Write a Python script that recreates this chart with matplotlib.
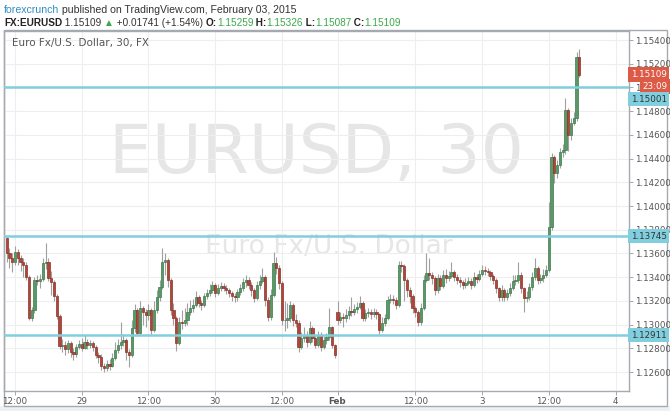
import numpy as np
import pandas as pd
import matplotlib
matplotlib.use('Agg')
import matplotlib.pyplot as plt
from matplotlib.patches import Rectangle
from matplotlib.transforms import offset_copy

# EURUSD 30 min candles
# session 1: Jan 28 10:30 -> Jan 30 21:30, session 2: Feb 1 22:00 -> Feb 3 17:30
first_open_1 = 1.13730
first_open_2 = 1.13106

close_1 = [1.13604, 1.13561, 1.13528, 1.13612, 1.13561, 1.13528, 1.13502, 1.13401, 1.13055, 1.13123,
           1.13376, 1.13367, 1.13384, 1.13519, 1.13528, 1.13393, 1.13359, 1.13241, 1.13072, 1.12819,
           1.12828, 1.12794, 1.12844, 1.12769, 1.12752, 1.12811, 1.12836, 1.12802, 1.12853, 1.12828,
           1.12844, 1.12811, 1.12743, 1.12726, 1.12651, 1.12634, 1.12667, 1.12651, 1.12718, 1.12785,
           1.12828, 1.12853, 1.12870, 1.12769, 1.12743, 1.12971, 1.13123, 1.12929, 1.13140, 1.13106,
           1.13081, 1.13123, 1.12954, 1.13123, 1.13233, 1.13317, 1.13528, 1.13545, 1.13376, 1.13123,
           1.13055, 1.12844, 1.13022, 1.13013, 1.13038, 1.13106, 1.13140, 1.13165, 1.13233, 1.13182,
           1.13165, 1.13241, 1.13266, 1.13292, 1.13334, 1.13266, 1.13308, 1.13325, 1.13308, 1.13292,
           1.13266, 1.13241, 1.13233, 1.13275, 1.13308, 1.13359, 1.13376, 1.13334, 1.13292, 1.13224,
           1.13334, 1.13367, 1.13401, 1.13207, 1.13064, 1.13249, 1.13519, 1.13477, 1.13351, 1.13038,
           1.13038, 1.13055, 1.13165, 1.13038, 1.13013, 1.12811, 1.12887, 1.12912, 1.12853, 1.12971,
           1.12887, 1.12828, 1.12912, 1.12811, 1.12870, 1.12895, 1.12979, 1.12828, 1.12743]
high_1 = [1.13740, 1.13650, 1.13600, 1.13660, 1.13640, 1.13590, 1.13560, 1.13530, 1.13420, 1.13150,
          1.13400, 1.13420, 1.13430, 1.13560, 1.13690, 1.13560, 1.13450, 1.13380, 1.13260, 1.13090,
          1.12880, 1.12860, 1.12870, 1.12860, 1.12800, 1.12840, 1.12870, 1.12890, 1.12910, 1.12880,
          1.12870, 1.12860, 1.12830, 1.12770, 1.12750, 1.12680, 1.12700, 1.12710, 1.12760, 1.12850,
          1.12880, 1.13020, 1.12920, 1.12890, 1.12790, 1.13040, 1.13170, 1.13140, 1.13200, 1.13160,
          1.13130, 1.13170, 1.13140, 1.13200, 1.13290, 1.13380, 1.13650, 1.13600, 1.13560, 1.13390,
          1.13180, 1.13070, 1.13060, 1.13120, 1.13140, 1.13180, 1.13210, 1.13220, 1.13280, 1.13250,
          1.13210, 1.13270, 1.13300, 1.13340, 1.13370, 1.13350, 1.13340, 1.13360, 1.13350, 1.13330,
          1.13310, 1.13280, 1.13270, 1.13300, 1.13340, 1.13390, 1.13420, 1.13400, 1.13360, 1.13310,
          1.13370, 1.13420, 1.13480, 1.13420, 1.13230, 1.13300, 1.13610, 1.13570, 1.13500, 1.13370,
          1.13200, 1.13180, 1.13200, 1.13180, 1.13090, 1.13040, 1.12940, 1.12980, 1.12950, 1.13030,
          1.12990, 1.12910, 1.12950, 1.12940, 1.12900, 1.12930, 1.13140, 1.12990, 1.12840]
low_1 = [1.13530, 1.13480, 1.13440, 1.13500, 1.13500, 1.13450, 1.13400, 1.13380, 1.13040, 1.13030,
         1.13100, 1.13330, 1.13310, 1.13370, 1.13470, 1.13370, 1.13250, 1.13200, 1.13050, 1.12790,
         1.12770, 1.12740, 1.12760, 1.12730, 1.12700, 1.12730, 1.12790, 1.12780, 1.12790, 1.12790,
         1.12800, 1.12780, 1.12720, 1.12680, 1.12620, 1.12600, 1.12610, 1.12620, 1.12640, 1.12700,
         1.12760, 1.12790, 1.12820, 1.12700, 1.12640, 1.12730, 1.12940, 1.12900, 1.12920, 1.13000,
         1.12980, 1.13040, 1.12920, 1.12940, 1.13100, 1.13200, 1.13300, 1.13420, 1.13320, 1.13080,
         1.13000, 1.12780, 1.12830, 1.12960, 1.12990, 1.13000, 1.13080, 1.13110, 1.13150, 1.13150,
         1.13120, 1.13150, 1.13220, 1.13240, 1.13270, 1.13230, 1.13250, 1.13280, 1.13280, 1.13260,
         1.13230, 1.13200, 1.13190, 1.13200, 1.13250, 1.13280, 1.13320, 1.13300, 1.13240, 1.13190,
         1.13210, 1.13300, 1.13350, 1.13160, 1.13030, 1.13040, 1.13230, 1.13430, 1.13300, 1.13000,
         1.12950, 1.12970, 1.13020, 1.12990, 1.12980, 1.12770, 1.12790, 1.12850, 1.12810, 1.12840,
         1.12850, 1.12800, 1.12810, 1.12780, 1.12790, 1.12840, 1.12870, 1.12800, 1.12720]

close_2 = [1.13038, 1.13064, 1.13055, 1.13081, 1.13114, 1.13106, 1.13131, 1.13148, 1.13182, 1.13055,
           1.13098, 1.13106, 1.13089, 1.13106, 1.13089, 1.12954, 1.13013, 1.13055, 1.13207, 1.13216,
           1.13207, 1.13165, 1.13502, 1.13494, 1.13376, 1.13292, 1.13241, 1.13140, 1.13106, 1.13022,
           1.13140, 1.13376, 1.13435, 1.13418, 1.13393, 1.13292, 1.13393, 1.13325, 1.13418, 1.13393,
           1.13410, 1.13443, 1.13401, 1.13376, 1.13359, 1.13334, 1.13351, 1.13367, 1.13334, 1.13401,
           1.13384, 1.13426, 1.13460, 1.13452, 1.13443, 1.13410, 1.13376, 1.13308, 1.13233, 1.13292,
           1.13233, 1.13266, 1.13308, 1.13367, 1.13376, 1.13418, 1.13308, 1.13224, 1.13233, 1.13317,
           1.13401, 1.13477, 1.13376, 1.13393, 1.13418, 1.13460, 1.13823, 1.14413, 1.14278, 1.14346,
           1.14455, 1.14472, 1.14810, 1.14599, 1.14700, 1.14742, 1.15259, 1.15109]
high_2 = [1.13200, 1.13110, 1.13100, 1.13130, 1.13160, 1.13230, 1.13170, 1.13190, 1.13240, 1.13200,
          1.13130, 1.13140, 1.13130, 1.13140, 1.13130, 1.13100, 1.13060, 1.13090, 1.13240, 1.13260,
          1.13250, 1.13230, 1.13540, 1.13540, 1.13510, 1.13390, 1.13320, 1.13260, 1.13160, 1.13120,
          1.13180, 1.13420, 1.13600, 1.13560, 1.13440, 1.13410, 1.13430, 1.13420, 1.13460, 1.13470,
          1.13450, 1.13530, 1.13460, 1.13430, 1.13400, 1.13380, 1.13390, 1.13400, 1.13390, 1.13440,
          1.13430, 1.13460, 1.13500, 1.13490, 1.13480, 1.13460, 1.13430, 1.13390, 1.13320, 1.13330,
          1.13310, 1.13300, 1.13350, 1.13420, 1.13420, 1.13530, 1.13440, 1.13320, 1.13280, 1.13350,
          1.13440, 1.13560, 1.13490, 1.13430, 1.13470, 1.13500, 1.14030, 1.14450, 1.14430, 1.14390,
          1.14490, 1.14520, 1.14910, 1.14830, 1.14740, 1.14790, 1.15300, 1.15326]
low_2 = [1.13000, 1.13010, 1.12980, 1.13020, 1.13050, 1.13070, 1.13080, 1.13100, 1.13130, 1.13030,
         1.13030, 1.13060, 1.13050, 1.13060, 1.13050, 1.12920, 1.12940, 1.12990, 1.13040, 1.13180,
         1.13170, 1.13130, 1.13150, 1.13440, 1.13200, 1.13230, 1.13180, 1.13100, 1.13060, 1.12990,
         1.13000, 1.13120, 1.13360, 1.13380, 1.13340, 1.13250, 1.13270, 1.13290, 1.13310, 1.13350,
         1.13370, 1.13390, 1.13370, 1.13340, 1.13320, 1.13300, 1.13310, 1.13330, 1.13300, 1.13320,
         1.13350, 1.13370, 1.13410, 1.13420, 1.13410, 1.13380, 1.13340, 1.13270, 1.13200, 1.13200,
         1.13200, 1.13210, 1.13240, 1.13290, 1.13330, 1.13350, 1.13270, 1.13110, 1.13190, 1.13210,
         1.13290, 1.13380, 1.13340, 1.13350, 1.13360, 1.13400, 1.13440, 1.13800, 1.14190, 1.14240,
         1.14320, 1.14410, 1.14440, 1.14460, 1.14560, 1.14680, 1.14720, 1.15087]

levels = [1.15001, 1.13745, 1.12911]
level_labels = ['1.15001', '1.13745', '1.12911']

tick_times = ['2015-01-28 12:00', '2015-01-29 00:00', '2015-01-29 12:00', '2015-01-30 00:00',
              '2015-01-30 12:00', '2015-02-01 22:00', '2015-02-02 12:00', '2015-02-03 00:00',
              '2015-02-03 12:00', '2015-02-04 00:00']
tick_labels = ['12:00', '29', '12:00', '30', '12:00', 'Feb', '12:00', '3', '12:00', '4']

# build series
t1 = pd.date_range('2015-01-28 10:30', '2015-01-30 21:30', freq='30min')
t2 = pd.date_range('2015-02-01 22:00', '2015-02-03 17:30', freq='30min')
times = t1.append(t2)
o = np.array([first_open_1] + close_1[:-1] + [first_open_2] + close_2[:-1])
c = np.array(close_1 + close_2)
h = np.array(high_1 + high_2)
l = np.array(low_1 + low_2)
idx = np.arange(len(c))


def time_pos(ts):
    ts = pd.Timestamp(ts)
    if ts in times:
        return times.get_loc(ts)
    return len(times) - 1 + (ts - times[-1]) / pd.Timedelta('30min')


W, H = 670, 411
fig = plt.figure(figsize=(W / 100, H / 100), dpi=100)
fig.patch.set_facecolor('white')


def fx(px):
    return px / W


def fy(py):
    return 1 - py / H


# outer frame and grey strip at the bottom
fig.patches.append(Rectangle((0, 0), 1, fy(406), transform=fig.transFigure,
                             fc='#eef1f4', ec='none', zorder=-10))
fig.patches.append(Rectangle((fx(4), fy(406)), fx(667) - fx(4), fy(30) - fy(406),
                             transform=fig.transFigure, fc='white', ec='#a5aab0', lw=1, zorder=-9))

ax = fig.add_axes([fx(4), fy(391), fx(629) - fx(4), fy(31) - fy(391)])
ax.set_zorder(2)
ax.set_facecolor('none')
ax.set_xlim(-0.97, 223.85)
ax.set_ylim(1.12440, 1.15476)

# watermark
ax.text(0.5, 0.658, 'EURUSD, 30', transform=ax.transAxes, ha='center', va='center',
        fontsize=49, color='#e6e6e6', zorder=0)
ax.text(0.52, 0.40, 'Euro Fx/U.S. Dollar', transform=ax.transAxes, ha='center', va='center',
        fontsize=19, color='#e6e6e6', zorder=0)

# grid
ax.set_yticks(np.arange(1.126, 1.1545, 0.002))
ax.set_yticklabels(['%.5f' % v for v in np.arange(1.126, 1.1545, 0.002)])
ax.set_xticks([time_pos(t) for t in tick_times])
ax.set_xticklabels(tick_labels)
ax.grid(True, color='#eeeeee', lw=0.8, zorder=0)
ax.set_axisbelow(True)

# candles
up = c >= o
ax.vlines(idx, l, h, color='#a0a0a0', lw=0.8, zorder=2)
body_lo = np.minimum(o, c)
body_h = np.maximum(np.abs(c - o), 0.00002)
ax.bar(idx[up], body_h[up], bottom=body_lo[up], width=0.8,
       color='#5a9868', edgecolor='#3c7a4b', lw=0.5, zorder=3)
ax.bar(idx[~up], body_h[~up], bottom=body_lo[~up], width=0.8,
       color='#b0463a', edgecolor='#8a3226', lw=0.5, zorder=3)

# horizontal levels
for lv in levels:
    ax.axhline(lv, color='#80cede', lw=1.8, zorder=4)

# axis styling
for s in ax.spines.values():
    s.set_color('#a5aab0')
    s.set_linewidth(1)
ax.yaxis.tick_right()
ax.tick_params(axis='y', direction='out', length=3, width=0.6, color='#999999',
               labelsize=6.3, labelcolor='#555555', pad=1)
ax.tick_params(axis='x', direction='out', length=3, width=0.6, color='#999999',
               labelsize=6.3, labelcolor='#555555', pad=1)
for lab in ax.get_xticklabels():
    if lab.get_text() == 'Feb':
        lab.set_fontweight('bold')

# chart title inside the pane
ax.text(0.0128, 0.966, 'Euro Fx/U.S. Dollar, 30, FX', transform=ax.transAxes,
        ha='left', va='center', fontsize=7.5, color='#555555', zorder=5)

# price boxes on the right axis
ytr = ax.get_yaxis_transform()
box_kw = dict(ha='left', va='center', fontsize=6.3, zorder=6, clip_on=False)
last_close = c[-1]
ax.text(1.003, last_close, '%.5f' % last_close, transform=ytr, color='white',
        bbox=dict(boxstyle='square,pad=0.3', fc='#dd5a47', ec='none'), **box_kw)
ax.text(1.022, last_close, '23:09', transform=offset_copy(ytr, fig=fig, y=-12, units='dots'),
        color='white', bbox=dict(boxstyle='square,pad=0.3', fc='#dd5a47', ec='none'), **box_kw)
ax.text(1.003, levels[0], level_labels[0],
        transform=offset_copy(ytr, fig=fig, y=-12, units='dots'), color='#333333',
        bbox=dict(boxstyle='square,pad=0.3', fc='#80cede', ec='none'), **box_kw)
for lv, lab in zip(levels[1:], level_labels[1:]):
    ax.text(1.003, lv, lab, transform=ytr, color='#333333',
            bbox=dict(boxstyle='square,pad=0.3', fc='#80cede', ec='none'), **box_kw)

# header lines
renderer = fig.canvas.get_renderer()
fam = ['Liberation Sans', 'DejaVu Sans']


def text_row(parts, x, y, size):
    for s, color, weight in parts:
        t = fig.text(x, y, s, color=color, fontsize=size, fontweight=weight,
                     ha='left', va='center', family=fam)
        x += t.get_window_extent(renderer=renderer).width / W


green = '#3aa84a'
dark = '#333333'
text_row([('forexcrunch', '#2f8dc4', 'normal'),
          (' published on TradingView.com, February 03, 2015', dark, 'normal')],
         fx(4), fy(10), 7.6)
text_row([('FX:EURUSD', '#222222', 'bold'), (' 1.15109 ', dark, 'normal'),
          ('\u25b2', green, 'normal'), (' +0.01741 (+1.54%) ', dark, 'normal'),
          ('O:', '#222222', 'bold'), ('1.15259', green, 'normal'),
          (' H:', '#222222', 'bold'), ('1.15326', green, 'normal'),
          (' L:', '#222222', 'bold'), ('1.15087', green, 'normal'),
          (' C:', '#222222', 'bold'), ('1.15109', green, 'normal')],
         fx(4), fy(23), 7.2)

fig.savefig('out.png', dpi=100, facecolor=fig.get_facecolor())
